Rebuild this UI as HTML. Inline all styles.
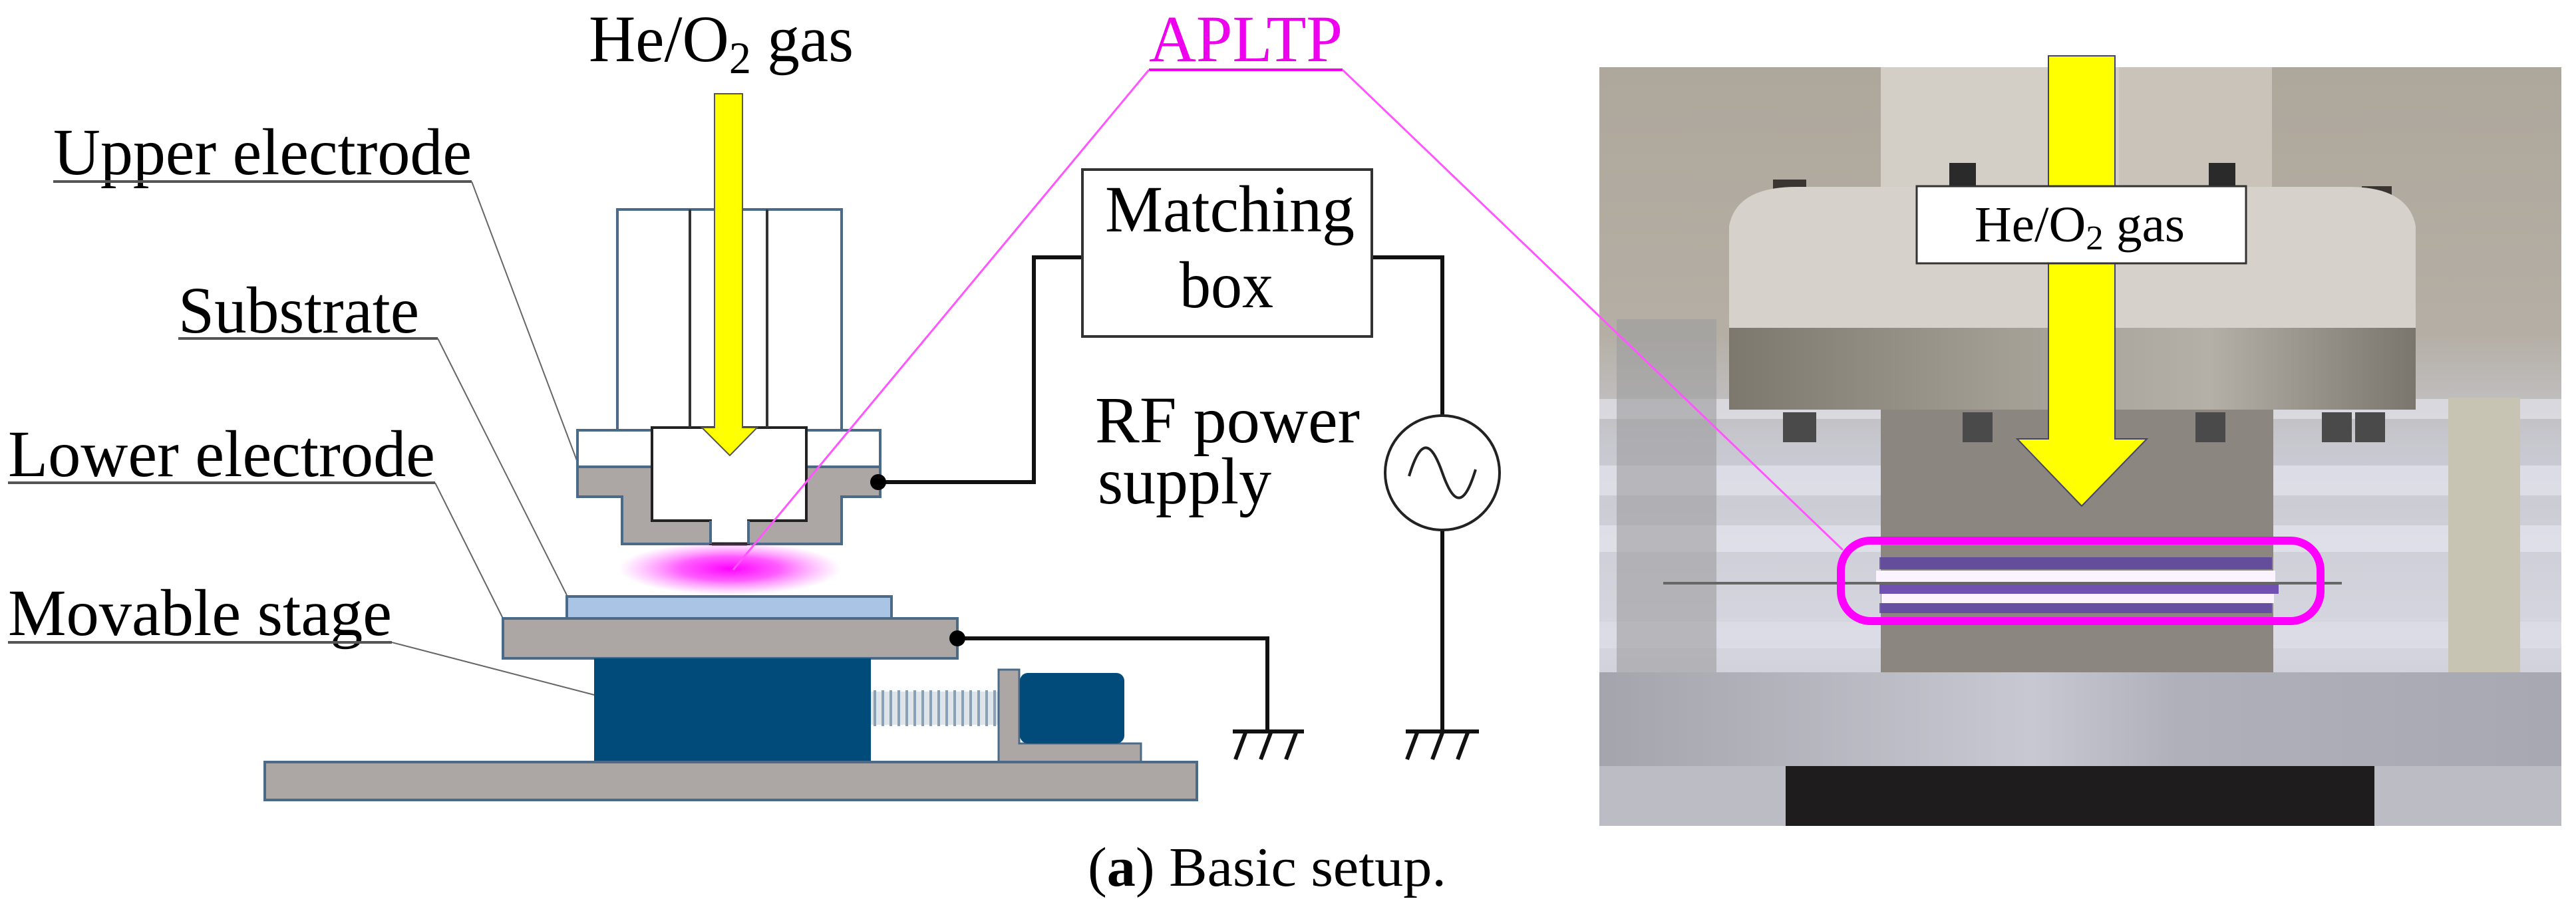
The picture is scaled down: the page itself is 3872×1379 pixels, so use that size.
<!DOCTYPE html>
<html><head><meta charset="utf-8"><style>
html,body{margin:0;padding:0;background:#fff}
svg{display:block}
text{font-family:"Liberation Serif",serif}
</style></head><body>
<svg width="3872" height="1379" viewBox="0 0 3872 1379" xmlns="http://www.w3.org/2000/svg">
<defs>
<radialGradient id="glow" cx="0.5" cy="0.5" r="0.5">
<stop offset="0" stop-color="#ff00ff"/><stop offset="0.45" stop-color="#ff33ff" stop-opacity="0.8"/><stop offset="1" stop-color="#ff66ff" stop-opacity="0"/>
</radialGradient>
<linearGradient id="bg" x1="0" y1="0" x2="0" y2="1">
<stop offset="0" stop-color="#aea79c"/><stop offset="0.35" stop-color="#b4aea4"/><stop offset="0.5" stop-color="#c8c8d0"/><stop offset="0.75" stop-color="#d6d6e0"/><stop offset="1" stop-color="#c0c0c8"/>
</linearGradient>
<linearGradient id="ring" x1="0" y1="0" x2="1" y2="0">
<stop offset="0" stop-color="#7d786e"/><stop offset="0.4" stop-color="#a39e94"/><stop offset="0.7" stop-color="#b4b0a8"/><stop offset="1" stop-color="#7a766e"/>
</linearGradient>
<linearGradient id="plate" x1="0" y1="0" x2="1" y2="0">
<stop offset="0" stop-color="#a4a4ac"/><stop offset="0.45" stop-color="#c8c8d2"/><stop offset="0.6" stop-color="#b0b0ba"/><stop offset="1" stop-color="#a8a8b2"/>
</linearGradient>
</defs>

<!-- Left diagram texts -->
<text x="885" y="92" font-size="100" textLength="398" lengthAdjust="spacingAndGlyphs">He/O<tspan font-size="68" dy="18">2</tspan><tspan dy="-18"> gas</tspan></text>
<text x="1727" y="92" font-size="100" fill="#ee00ee" textLength="291" lengthAdjust="spacingAndGlyphs">APLTP</text>
<line x1="1727" y1="105" x2="2018" y2="105" stroke="#ee00ee" stroke-width="4"/>

<text x="80" y="262" font-size="100" textLength="629" lengthAdjust="spacingAndGlyphs">Upper electrode</text>
<line x1="80" y1="273" x2="709" y2="273" stroke="#555" stroke-width="4"/>
<text x="268" y="500" font-size="100" textLength="362" lengthAdjust="spacingAndGlyphs">Substrate</text>
<line x1="268" y1="509" x2="658" y2="509" stroke="#555" stroke-width="4"/>
<text x="12" y="716" font-size="100" textLength="642" lengthAdjust="spacingAndGlyphs">Lower electrode</text>
<line x1="12" y1="726" x2="654" y2="726" stroke="#555" stroke-width="4"/>
<text x="12" y="955" font-size="100" textLength="577" lengthAdjust="spacingAndGlyphs">Movable stage</text>
<line x1="12" y1="966" x2="589" y2="966" stroke="#555" stroke-width="4"/>

<g stroke="#666" stroke-width="2" fill="none">
<line x1="709" y1="273" x2="868" y2="695"/>
<line x1="658" y1="509" x2="852" y2="895"/>
<line x1="654" y1="726" x2="756" y2="930"/>
<line x1="589" y1="966" x2="893" y2="1045"/>
</g>

<!-- Upper electrode -->
<g stroke="#4a6a88" stroke-width="4">
<rect x="928" y="315" width="337" height="332" fill="#fff"/>
<rect x="868" y="647" width="455" height="55" fill="#fff"/>
<path d="M868 702 H1323 V747 H1265 V818 H935 V747 H868 Z" fill="#aca7a4"/>
</g>
<path d="M980 643 H1212 V783 H1125 V818 H1068 V783 H980 Z" fill="#fff" stroke="#222" stroke-width="4"/>
<line x1="1068" y1="783" x2="1068" y2="818" stroke="#4a6a88" stroke-width="4"/>
<line x1="1125" y1="783" x2="1125" y2="818" stroke="#4a6a88" stroke-width="4"/>
<line x1="1037" y1="315" x2="1037" y2="643" stroke="#333" stroke-width="4"/>
<line x1="1153" y1="315" x2="1153" y2="643" stroke="#333" stroke-width="4"/>
<line x1="1070" y1="818" x2="1123" y2="818" stroke="#222" stroke-width="5"/>

<path d="M1074 141 H1116 V643 H1138 L1097 685 L1055 643 H1074 Z" fill="#ffff00" stroke="#555" stroke-width="2"/>

<ellipse cx="1097" cy="855" rx="167" ry="40" fill="url(#glow)"/>

<rect x="852" y="897" width="488" height="33" fill="#a9c4e4" stroke="#4a6a88" stroke-width="4"/>
<rect x="756" y="930" width="683" height="60" fill="#aca7a4" stroke="#4a6a88" stroke-width="4"/>
<rect x="893" y="990" width="416" height="156" fill="#004b7a"/>
<g stroke="#8aa0b4" stroke-width="4">
<rect x="1309" y="1040" width="192" height="50" fill="#dde4ea" stroke="none"/>
<line x1="1315" y1="1038" x2="1315" y2="1092"/><line x1="1327" y1="1038" x2="1327" y2="1092"/><line x1="1339" y1="1038" x2="1339" y2="1092"/><line x1="1351" y1="1038" x2="1351" y2="1092"/><line x1="1363" y1="1038" x2="1363" y2="1092"/><line x1="1375" y1="1038" x2="1375" y2="1092"/><line x1="1387" y1="1038" x2="1387" y2="1092"/><line x1="1399" y1="1038" x2="1399" y2="1092"/><line x1="1411" y1="1038" x2="1411" y2="1092"/><line x1="1423" y1="1038" x2="1423" y2="1092"/><line x1="1435" y1="1038" x2="1435" y2="1092"/><line x1="1447" y1="1038" x2="1447" y2="1092"/><line x1="1459" y1="1038" x2="1459" y2="1092"/><line x1="1471" y1="1038" x2="1471" y2="1092"/><line x1="1483" y1="1038" x2="1483" y2="1092"/><line x1="1495" y1="1038" x2="1495" y2="1092"/>
</g>
<path d="M1501 1007 H1532 V1118 H1715 V1146 H1501 Z" fill="#aca7a4" stroke="#4a6a88" stroke-width="3"/>
<rect x="1533" y="1012" width="157" height="106" rx="12" fill="#004b7a"/>
<rect x="398" y="1146" width="1401" height="57" fill="#aca7a4" stroke="#4a6a88" stroke-width="4"/>

<g stroke="#111" stroke-width="6" fill="none">
<polyline points="1320,725 1554,725 1554,387 1627,387"/>
<polyline points="1439,960 1905,960 1905,1100"/>
<polyline points="2062,387 2168,387 2168,625"/>
<line x1="2168" y1="797" x2="2168" y2="1100"/>
<line x1="1853" y1="1100" x2="1960" y2="1100"/>
<line x1="2113" y1="1100" x2="2223" y2="1100"/>
<path d="M1872 1102 L1857 1142 M1910 1102 L1895 1142 M1948 1102 L1933 1142"/>
<path d="M2130 1102 L2115 1142 M2168 1102 L2153 1142 M2206 1102 L2191 1142"/>
</g>
<circle cx="1320" cy="725" r="12" fill="#000"/>
<circle cx="1439" cy="960" r="12" fill="#000"/>
<circle cx="2168" cy="711" r="86" fill="#fff" stroke="#222" stroke-width="4"/>
<path d="M2118 716 C2135 660 2150 660 2168 711 C2186 762 2201 762 2218 706" fill="none" stroke="#222" stroke-width="4"/>

<rect x="1627" y="255" width="435" height="251" fill="#fff" stroke="#333" stroke-width="4"/>
<text x="1661" y="348" font-size="100" textLength="375" lengthAdjust="spacingAndGlyphs">Matching</text>
<text x="1773" y="462" font-size="100" textLength="141" lengthAdjust="spacingAndGlyphs">box</text>
<text x="1646" y="665" font-size="100" textLength="398" lengthAdjust="spacingAndGlyphs">RF power</text>
<text x="1650" y="757" font-size="100" textLength="261" lengthAdjust="spacingAndGlyphs">supply</text>

<text x="1635" y="1332" font-size="84" textLength="539" lengthAdjust="spacingAndGlyphs">(<tspan font-weight="bold">a</tspan>) Basic setup.</text>

<!-- Photo -->
<rect x="2404" y="101" width="1446" height="1141" fill="url(#bg)"/>
<rect x="2404" y="600" width="1446" height="30" fill="#e2e2ea" opacity="0.7"/>
<rect x="2404" y="700" width="1446" height="45" fill="#e4e4ee" opacity="0.7"/>
<rect x="2404" y="790" width="1446" height="40" fill="#e6e6f0" opacity="0.7"/>
<rect x="2404" y="935" width="1446" height="40" fill="#e0e0ea" opacity="0.6"/>
<rect x="2430" y="480" width="150" height="720" fill="#9c9c9e" opacity="0.6"/>
<rect x="2827" y="101" width="581" height="200" fill="#d3cfc7"/>
<rect x="3185" y="101" width="230" height="200" fill="#c9c3b9"/>
<rect x="2930" y="245" width="40" height="45" fill="#2a2a2a"/>
<rect x="3320" y="245" width="40" height="45" fill="#2a2a2a"/>
<rect x="2665" y="270" width="50" height="40" fill="#3a3530"/>
<rect x="3550" y="280" width="45" height="35" fill="#3a3530"/>
<path d="M2599 340 Q2610 281 2700 281 H3530 Q3620 281 3631 340 V493 H2599 Z" fill="#d6d2cb"/>
<rect x="2599" y="493" width="1032" height="123" fill="url(#ring)"/>
<rect x="2827" y="616" width="590" height="405" fill="#8c8680"/>
<g fill="#4a4a4a"><rect x="2680" y="620" width="50" height="45"/><rect x="2950" y="620" width="45" height="45"/><rect x="3300" y="620" width="45" height="45"/><rect x="3490" y="620" width="45" height="45"/><rect x="3540" y="620" width="45" height="45"/></g>
<rect x="3680" y="598" width="108" height="413" fill="#c8c4b4"/>
<rect x="2404" y="1011" width="1446" height="141" fill="url(#plate)"/>
<rect x="2404" y="1152" width="1446" height="90" fill="#bcbcc4"/>
<rect x="2684" y="1152" width="885" height="90" fill="#1e1c1c"/>
<rect x="2825" y="838" width="590" height="18" fill="#5a3fa0" opacity="0.8"/>
<rect x="2820" y="858" width="600" height="20" fill="#fbf4ff"/>
<rect x="2825" y="877" width="600" height="16" fill="#7050b0"/>
<rect x="2828" y="893" width="590" height="14" fill="#fbf4ff"/>
<rect x="2825" y="907" width="590" height="15" fill="#5c40a8" opacity="0.8"/>
<line x1="2500" y1="877" x2="3520" y2="877" stroke="#666" stroke-width="4"/>
<rect x="2767" y="813" width="721" height="121" rx="45" fill="none" stroke="#ff00ff" stroke-width="12"/>

<path d="M3079 84 H3179 V660 H3227 L3129 761 L3032 660 H3079 Z" fill="#ffff00" stroke="#446" stroke-width="2"/>
<rect x="2881" y="280" width="495" height="116" fill="#fff" stroke="#333" stroke-width="3"/>
<text x="2968" y="363" font-size="76" textLength="316" lengthAdjust="spacingAndGlyphs">He/O<tspan font-size="52" dy="12">2</tspan><tspan dy="-12">  gas</tspan></text>

<g stroke="#ff55ff" stroke-width="3">
<line x1="1727" y1="105" x2="1102" y2="857"/>
<line x1="2018" y1="105" x2="2770" y2="827"/>
</g>
</svg>
</body></html>
